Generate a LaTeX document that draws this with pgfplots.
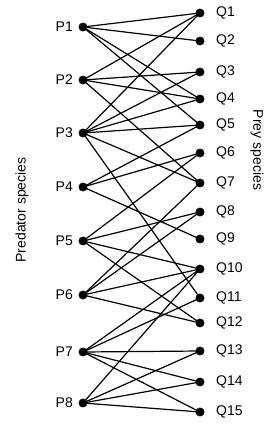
\documentclass[border=0pt]{standalone}
\usepackage{pgfplots}
\pgfplotsset{compat=1.18}
\usepackage{fontspec}
\setmainfont{Liberation Sans}
\tikzset{lab/.style={font=\fontsize{14}{16}\selectfont, inner sep=0pt},
  edge/.style={black, solid, line width=1.2pt, mark=none}}
\begin{document}
\begin{tikzpicture}
\begin{axis}[
  scale only axis, width=278pt, height=424pt,
  xmin=0, xmax=278, ymin=0, ymax=424, y dir=reverse,
  hide axis, clip=false,
]
\path (axis cs:0,0) rectangle (axis cs:278,424);
% P1
\addplot[edge] coordinates {(83,27) (200,13)};
\addplot[edge] coordinates {(83,27) (200,41)};
\addplot[edge] coordinates {(83,27) (200,99)};
\addplot[edge] coordinates {(83,27) (200,125)};
% P2
\addplot[edge] coordinates {(83,80) (200,13)};
\addplot[edge] coordinates {(83,80) (200,72)};
\addplot[edge] coordinates {(83,80) (200,99)};
\addplot[edge] coordinates {(83,80) (200,183)};
% P3
\addplot[edge] coordinates {(83,133) (200,13)};
\addplot[edge] coordinates {(83,133) (200,72)};
\addplot[edge] coordinates {(83,133) (200,99)};
\addplot[edge] coordinates {(83,133) (200,125)};
\addplot[edge] coordinates {(83,133) (200,183)};
\addplot[edge] coordinates {(83,133) (200,298)};
% P4
\addplot[edge] coordinates {(83,187) (200,125)};
\addplot[edge] coordinates {(83,187) (200,153)};
\addplot[edge] coordinates {(83,187) (200,239)};
% P5
\addplot[edge] coordinates {(83,241) (200,153)};
\addplot[edge] coordinates {(83,241) (200,212)};
\addplot[edge] coordinates {(83,241) (200,269)};
\addplot[edge] coordinates {(83,241) (200,323)};
% P6
\addplot[edge] coordinates {(83,295) (200,183)};
\addplot[edge] coordinates {(83,295) (200,212)};
\addplot[edge] coordinates {(83,295) (200,269)};
\addplot[edge] coordinates {(83,295) (200,323)};
% P7
\addplot[edge] coordinates {(83,352) (200,269)};
\addplot[edge] coordinates {(83,352) (200,298)};
\addplot[edge] coordinates {(83,352) (200,351)};
\addplot[edge] coordinates {(83,352) (200,382)};
\addplot[edge] coordinates {(83,352) (200,412)};
% P8
\addplot[edge] coordinates {(83,403) (200,269)};
\addplot[edge] coordinates {(83,403) (200,351)};
\addplot[edge] coordinates {(83,403) (200,382)};
\addplot[edge] coordinates {(83,403) (200,412)};
% nodes
\addplot[black, only marks, mark=*, mark size=4.2pt, mark options={fill=black, draw=black}] coordinates {
(83,27) (83,80) (83,133) (83,187) (83,241) (83,295) (83,352) (83,403)
(200,13) (200,41) (200,72) (200,99) (200,125) (200,153) (200,183) (200,212)
(200,239) (200,269) (200,298) (200,323) (200,351) (200,382) (200,412)};
% labels
\node[lab, anchor=east] at (axis cs:73,27) {P1};
\node[lab, anchor=east] at (axis cs:73,80) {P2};
\node[lab, anchor=east] at (axis cs:73,133) {P3};
\node[lab, anchor=east] at (axis cs:73,187) {P4};
\node[lab, anchor=east] at (axis cs:73,241) {P5};
\node[lab, anchor=east] at (axis cs:73,295) {P6};
\node[lab, anchor=east] at (axis cs:73,352) {P7};
\node[lab, anchor=east] at (axis cs:73,403) {P8};
\node[lab, anchor=west] at (axis cs:216,13) {Q1};
\node[lab, anchor=west] at (axis cs:216,41) {Q2};
\node[lab, anchor=west] at (axis cs:216,72) {Q3};
\node[lab, anchor=west] at (axis cs:216,99) {Q4};
\node[lab, anchor=west] at (axis cs:216,125) {Q5};
\node[lab, anchor=west] at (axis cs:216,153) {Q6};
\node[lab, anchor=west] at (axis cs:216,183) {Q7};
\node[lab, anchor=west] at (axis cs:216,212) {Q8};
\node[lab, anchor=west] at (axis cs:216,239) {Q9};
\node[lab, anchor=west] at (axis cs:216,269) {Q10};
\node[lab, anchor=west] at (axis cs:216,298) {Q11};
\node[lab, anchor=west] at (axis cs:216,323) {Q12};
\node[lab, anchor=west] at (axis cs:216,351) {Q13};
\node[lab, anchor=west] at (axis cs:216,382) {Q14};
\node[lab, anchor=west] at (axis cs:216,412) {Q15};
\node[lab, rotate=90] at (axis cs:22,210) {Predator species};
\node[lab, rotate=-90] at (axis cs:257,150) {Prey species};
\end{axis}
\end{tikzpicture}
\end{document}
